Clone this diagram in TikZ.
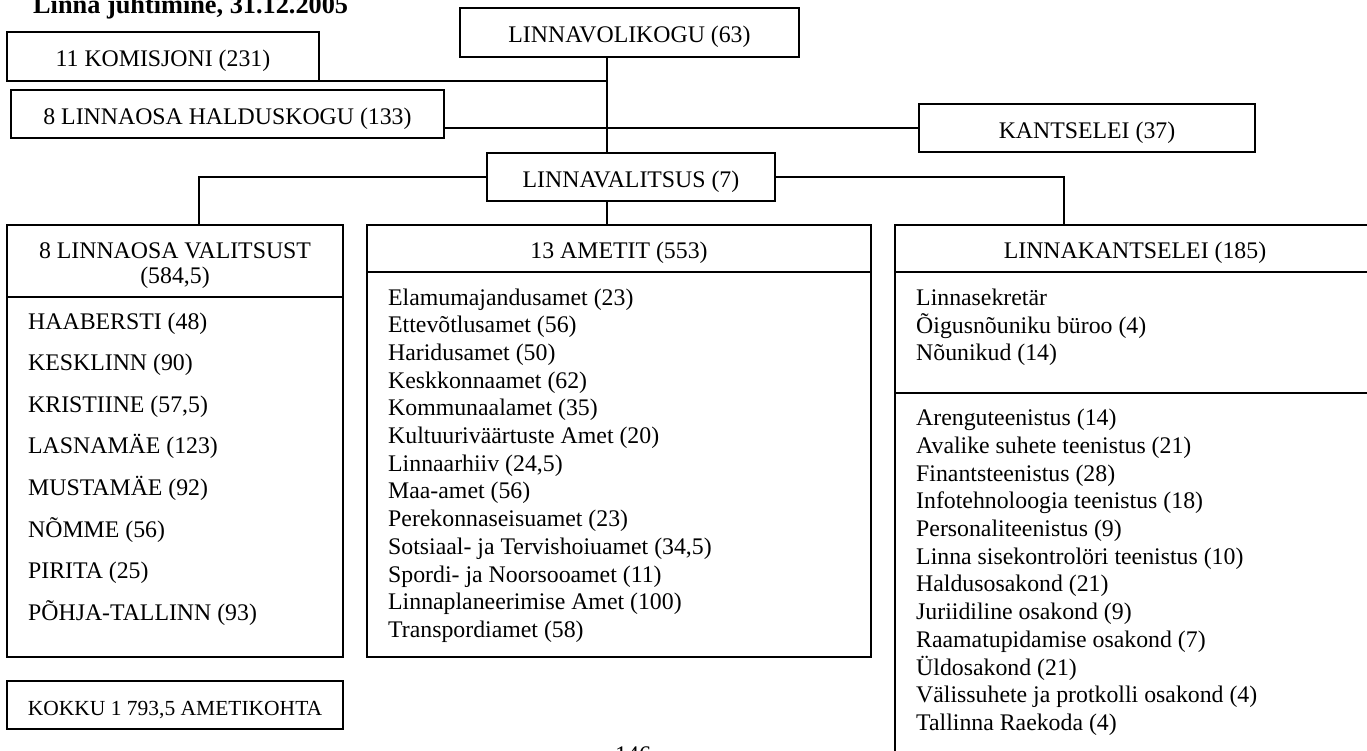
\documentclass[tikz,border=0pt]{standalone}
\usepackage{fontspec}
\setmainfont{Liberation Serif}
\usetikzlibrary{positioning}

\begin{document}
\begin{tikzpicture}[x=1pt,y=-1pt,font=\fontsize{23.8}{28}\selectfont]
            \tikzstyle{box}=[draw,line width=1.8pt,inner sep=0pt,outer sep=0pt,text height=20pt,text depth=0pt]
            \tikzstyle{item}=[anchor=base west,inner sep=0pt]
            \tikzstyle{link}=[line width=1.6pt]

            \useasboundingbox (0,0) rectangle (1367,750);

            % Title (cut at the top of the page)
            \node[item,font=\fontsize{26.3}{30}\selectfont\bfseries] (title) at (33,13) {Linna juhtimine, 31.12.2005};

            % Upper boxes
            \node[box,minimum width=339pt,minimum height=49pt] (vol) at (629.5,32.5) {LINNAVOLIKOGU (63)};
            \node[box,minimum width=312pt,minimum height=49pt] (kom) at (163,56.5) {11 KOMISJONI (231)};
            \node[box,minimum width=433pt,minimum height=48pt] (hal) at (227.5,114) {8 LINNAOSA HALDUSKOGU (133)};
            \node[box,minimum width=336pt,minimum height=48pt] (kan) at (1087,128) {KANTSELEI (37)};
            \node[box,minimum width=288pt,minimum height=48pt] (vali) at (631,177) {LINNAVALITSUS (7)};

            % Lower boxes: header and body
            \node[box,minimum width=336pt,minimum height=72pt] (valh) at (175,261) {};
            \node[box,minimum width=336pt,minimum height=360pt] (valb) at (175,477) {};
            \node[box,minimum width=504pt,minimum height=47pt] (amh) at (619,248.5) {13 AMETIT (553)};
            \node[box,minimum width=504pt,minimum height=385pt] (amb) at (619,464.5) {};
            \node[box,minimum width=480pt,minimum height=47pt] (lkh) at (1135,248.5) {LINNAKANTSELEI (185)};
            \node[box,minimum width=480pt,minimum height=121pt] (lkb1) at (1135,332.5) {};
            \node[box,minimum width=480pt,minimum height=407pt] (lkb2) at (1135,596.5) {};
            \node[box,minimum width=336pt,minimum height=48pt,font=\fontsize{21.5}{25}\selectfont] (kokku) at (175,705) {KOKKU 1 793,5 AMETIKOHTA};

            % Connectors
            \coordinate (spine) at (607,0);
            \coordinate (lj) at (199,0);
            \coordinate (rj) at (1064,0);
            \draw[link] (vol.south -| spine) -- (vali.north -| spine);
            \draw[link] (vali.south -| spine) -- (amh.north -| spine);
            \draw[link] (kom.south east) -- (kom.south east -| spine);
            \draw[link] (hal.east |- kan.west) -- (kan.west);
            \draw[link] (vali.west) -| (valh.north -| lj);
            \draw[link] (vali.east) -| (lkh.north -| rj);

            % Header of the left box
            \node[item,anchor=base] (vh1) at (175,258) {8 LINNAOSA VALITSUST};
            \node[item,anchor=base] (vh2) at (175,283) {(584,5)};

            % Districts
            \node[item] (l1) at (28,329) {HAABERSTI (48)};
            \node[item] (l2) at (28,370.6) {KESKLINN (90)};
            \node[item] (l3) at (28,412.2) {KRISTIINE (57,5)};
            \node[item] (l4) at (28,453.8) {LASNAMÄE (123)};
            \node[item] (l5) at (28,495.4) {MUSTAMÄE (92)};
            \node[item] (l6) at (28,537) {NÕMME (56)};
            \node[item] (l7) at (28,578.6) {PIRITA (25)};
            \node[item] (l8) at (28,620.2) {PÕHJA-TALLINN (93)};

            % Departments
            \node[item] (a1) at (388,305) {Elamumajandusamet (23)};
            \node[item] (a2) at (388,332.7) {Ettevõtlusamet (56)};
            \node[item] (a3) at (388,360.4) {Haridusamet (50)};
            \node[item] (a4) at (388,388.1) {Keskkonnaamet (62)};
            \node[item] (a5) at (388,415.8) {Kommunaalamet (35)};
            \node[item] (a6) at (388,443.5) {Kultuuriväärtuste Amet (20)};
            \node[item] (a7) at (388,471.2) {Linnaarhiiv (24,5)};
            \node[item] (a8) at (388,498.9) {Maa-amet (56)};
            \node[item] (a9) at (388,526.6) {Perekonnaseisuamet (23)};
            \node[item] (a10) at (388,554.3) {Sotsiaal- ja Tervishoiuamet (34,5)};
            \node[item] (a11) at (388,582) {Spordi- ja Noorsooamet (11)};
            \node[item] (a12) at (388,609.7) {Linnaplaneerimise Amet (100)};
            \node[item] (a13) at (388,637.4) {Transpordiamet (58)};

            % City office
            \node[item] (k1) at (916,305.5) {Linnasekretär};
            \node[item] (k2) at (916,333.2) {Õigusnõuniku büroo (4)};
            \node[item] (k3) at (916,360.9) {Nõunikud (14)};

            \node[item] (t1) at (916,425.5) {Arenguteenistus (14)};
            \node[item] (t2) at (916,453.2) {Avalike suhete teenistus (21)};
            \node[item] (t3) at (916,481) {Finantsteenistus (28)};
            \node[item] (t4) at (916,508.7) {Infotehnoloogia teenistus (18)};
            \node[item] (t5) at (916,536.4) {Personaliteenistus (9)};
            \node[item] (t6) at (916,564.2) {Linna sisekontrolöri teenistus (10)};
            \node[item] (t7) at (916,591.9) {Haldusosakond (21)};
            \node[item] (t8) at (916,619.6) {Juriidiline osakond (9)};
            \node[item] (t9) at (916,647.3) {Raamatupidamise osakond (7)};
            \node[item] (t10) at (916,675.1) {Üldosakond (21)};
            \node[item] (t11) at (916,702.8) {Välissuhete ja protkolli osakond (4)};
            \node[item] (t12) at (916,730.5) {Tallinna Raekoda (4)};

            % Page number (cut at the bottom)
            \node[item] (page) at (615,762) {146};
        \end{tikzpicture}
\end{document}
